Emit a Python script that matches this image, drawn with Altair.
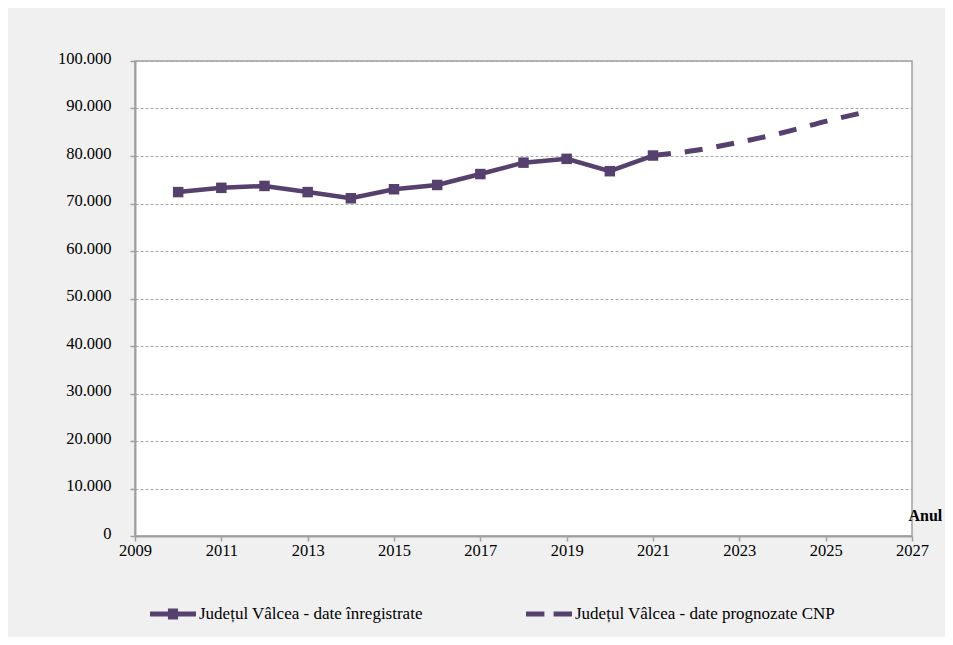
import altair as alt
import pandas as pd

# ---- data ----
years_rec = [2010, 2011, 2012, 2013, 2014, 2015, 2016, 2017, 2018, 2019, 2020, 2021]
vals_rec = [72400, 73300, 73700, 72400, 71100, 73000, 73900, 76200, 78600, 79400, 76800, 80100]
years_fc = [2021, 2022, 2023, 2024, 2025, 2026]
vals_fc = [80100, 81200, 82900, 84900, 87300, 89400]
series_names = ["Județul Vâlcea - date înregistrate", "Județul Vâlcea - date prognozate CNP"]
y_ticks = [0, 10000, 20000, 30000, 40000, 50000, 60000, 70000, 80000, 90000, 100000]
x_ticks = [2009, 2011, 2013, 2015, 2017, 2019, 2021, 2023, 2025, 2027]

rec = pd.DataFrame({"An": years_rec, "Valoare": vals_rec, "Serie": series_names[0]})
fc = pd.DataFrame({"An": years_fc, "Valoare": vals_fc, "Serie": series_names[1]})
df = pd.concat([rec, fc], ignore_index=True)

PURPLE = "#55406e"
FONT = "Liberation Serif"
GRAY = "#a0a0a0"

# legend symbols (unit square paths)
path_rec = ("M-1,-0.11L-0.22,-0.11L-0.22,-0.24L0.22,-0.24L0.22,-0.11L1,-0.11"
            "L1,0.11L0.22,0.11L0.22,0.24L-0.22,0.24L-0.22,0.11L-1,0.11Z")
path_fc = "M-1,-0.11L-0.2,-0.11L-0.2,0.11L-1,0.11Z M0.2,-0.11L1,-0.11L1,0.11L0.2,0.11Z"

x_enc = alt.X(
    "An:Q",
    scale=alt.Scale(domain=[2009, 2027], nice=False, zero=False),
    axis=alt.Axis(
        values=x_ticks, format="d", grid=False, title="Anul",
        titleX=773, titleY=-21, titleAlign="left", titleBaseline="middle",
        titleFont=FONT, titleFontSize=16, titleFontWeight="bold", titleColor="black",
        labelFont=FONT, labelFontSize=16.5, labelColor="black",
        labelPadding=1, labelFlush=False, labelOverlap=False,
    ),
)
y_enc = alt.Y(
    "Valoare:Q",
    scale=alt.Scale(domain=[0, 100000], nice=False),
    axis=alt.Axis(
        values=y_ticks, title=None, grid=True, gridDash=[3, 2], gridColor="#a6a6a6",
        labelExpr="replace(format(datum.value, ','), ',', '.')",
        labelFont=FONT, labelFontSize=16.5, labelColor="black",
        labelPadding=19, labelOffset=-3,
    ),
)

rec_line = alt.Chart(rec).mark_line(color=PURPLE, strokeWidth=4.5).encode(x=x_enc, y=y_enc)
rec_pts = alt.Chart(rec).mark_point(
    shape="square", filled=True, size=110, color=PURPLE, opacity=1
).encode(x="An:Q", y="Valoare:Q")
fc_line = alt.Chart(fc).mark_line(
    color=PURPLE, strokeWidth=5, strokeDash=[18, 14], interpolate="monotone"
).encode(x="An:Q", y="Valoare:Q")

legend_layer = alt.Chart(df).transform_filter("false").mark_point(
    filled=True, color=PURPLE, opacity=1
).encode(
    x="An:Q",
    y="Valoare:Q",
    shape=alt.Shape(
        "Serie:N",
        scale=alt.Scale(domain=series_names, range=[path_rec, path_fc]),
        legend=alt.Legend(
            title=None, orient="none", legendX=15, legendY=530,
            direction="horizontal", columns=2, columnPadding=103,
            symbolSize=2116, symbolFillColor=PURPLE, symbolStrokeWidth=0,
            symbolOpacity=1, labelOffset=3, labelLimit=500,
            labelFont=FONT, labelFontSize=17, labelColor="black",
        ),
    ),
)

chart = alt.layer(fc_line, rec_line, rec_pts, legend_layer).properties(
    width=777,
    height=475,
    background="#f0f0f0",
    padding={"left": 127, "top": 53, "right": 33, "bottom": 101},
    autosize=alt.AutoSizeParams(type="none"),
).configure_view(
    fill="white", stroke=GRAY, strokeWidth=1.5
).configure_axis(
    labelFont=FONT, labelFontSize=16.5, labelColor="black",
    domainColor=GRAY, domainWidth=2, tickColor=GRAY, tickSize=5, tickWidth=1.5,
)

chart.save("out.html", embed_options={"renderer": "svg", "actions": False})
